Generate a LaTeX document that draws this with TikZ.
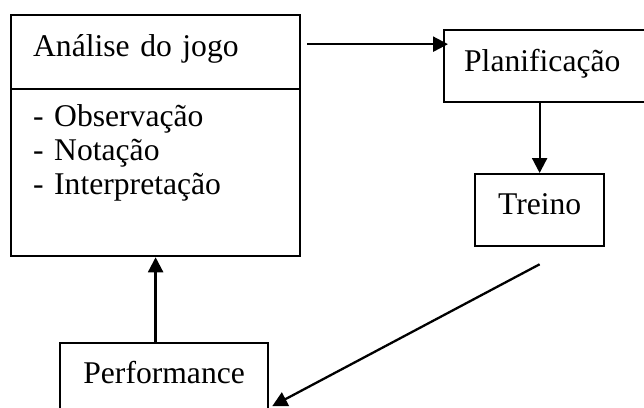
\documentclass[tikz,border=0pt]{standalone}
\usepackage{fontspec}
\setmainfont{Liberation Serif}
\usetikzlibrary{arrows.meta}

\begin{document}
\begin{tikzpicture}[
          x = 0.02cm, y = -0.02cm,
          > = {Triangle[length=3mm, width=3mm]},
 box/.style = {draw, line width=1.3pt, inner ysep=0pt,
               font=\fontsize{18}{19.4}\selectfont},
flow/.style = {line width=1.3pt, ->}
                    ]
\useasboundingbox (0,0) rectangle (644,407);
\clip (0,0) rectangle (644,407);
% boxes
\node[box, anchor=north west, text width=49mm, inner xsep=4.4mm, align=left,
      text height=8.2mm, text depth=6.6mm] (analise) at (10,14) {Análise do jogo};
\node[box, anchor=north west, text width=49mm, inner xsep=4.4mm, align=left,
      text height=7.4mm, text depth=26mm] (metodos) at (10,88)
      {- Observação\\ - Notação\\ - Interpretação};
\node[box, anchor=north west, text width=33mm, inner xsep=4mm, align=left,
      text height=8.2mm, text depth=6.2mm] (planif) at (443,29) {Planificação};
\node[box, anchor=north west, minimum width=25.8mm,
      text height=8mm, text depth=6.4mm] (treino) at (474,173) {Treino};
\node[box, anchor=north west, minimum width=41.6mm,
      text height=8mm, text depth=6.4mm] (perf) at (59,342) {Performance};
% arrows
\draw[flow] ([xshift=1.2mm, yshift=1.6mm]analise.east) coordinate (lien)
    -- ([xshift=1mm]lien -| planif.west);
\draw[flow] (treino.north |- planif.south) -- (treino.north);
\draw[flow] ([yshift=-3.4mm]treino.south) -- ([xshift=0.6mm, yshift=-5.4mm]perf.east);
\draw[flow] (metodos.south |- perf.north) -- (metodos.south);
\end{tikzpicture}
\end{document}
